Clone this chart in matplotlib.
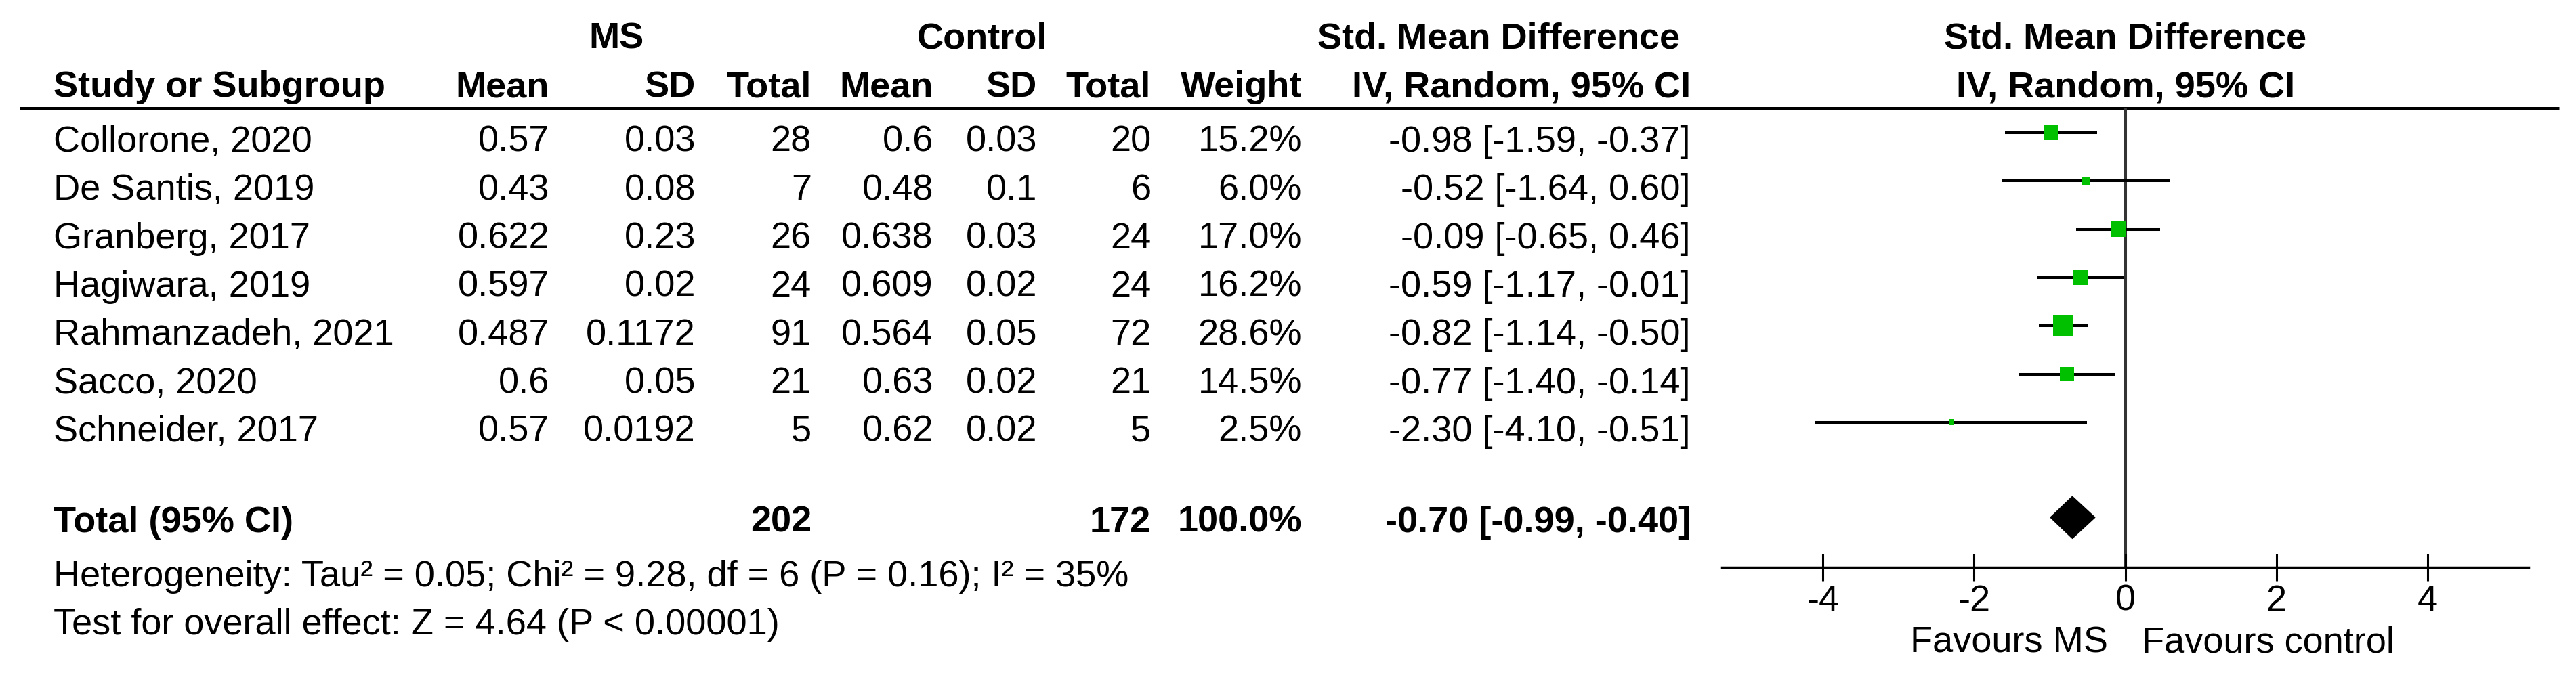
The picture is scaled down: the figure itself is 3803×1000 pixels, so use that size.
import matplotlib.pyplot as plt
import matplotlib.transforms as mtransforms
from matplotlib.patches import Polygon

plt.rcParams['font.family'] = ['Liberation Sans', 'DejaVu Sans']
plt.rcParams['axes.unicode_minus'] = False

# === Data ===
studies = ["Collorone, 2020", "De Santis, 2019", "Granberg, 2017", "Hagiwara, 2019",
           "Rahmanzadeh, 2021", "Sacco, 2020", "Schneider, 2017"]
ms_mean = [0.57, 0.43, 0.622, 0.597, 0.487, 0.6, 0.57]
ms_sd = [0.03, 0.08, 0.23, 0.02, 0.1172, 0.05, 0.0192]
ms_n = [28, 7, 26, 24, 91, 21, 5]
ctl_mean = [0.6, 0.48, 0.638, 0.609, 0.564, 0.63, 0.62]
ctl_sd = [0.03, 0.1, 0.03, 0.02, 0.05, 0.02, 0.02]
ctl_n = [20, 6, 24, 24, 72, 21, 5]
weight = [15.2, 6.0, 17.0, 16.2, 28.6, 14.5, 2.5]
smd = [-0.98, -0.52, -0.09, -0.59, -0.82, -0.77, -2.30]
ci_lo = [-1.59, -1.64, -0.65, -1.17, -1.14, -1.40, -4.10]
ci_hi = [-0.37, 0.60, 0.46, -0.01, -0.50, -0.14, -0.51]

total_ms_n, total_ctl_n, total_weight = 202, 172, 100.0
total_smd, total_lo, total_hi = -0.70, -0.99, -0.40
heterogeneity = "Heterogeneity: Tau² = 0.05; Chi² = 9.28, df = 6 (P = 0.16); I² = 35%"
overall = "Test for overall effect: Z = 4.64 (P < 0.00001)"
xticks = [-4, -2, 0, 2, 4]

# === Figure / table canvas in pixel units ===
W, H = 3803, 1000
fig = plt.figure(figsize=(W / 100, H / 100), dpi=100)
tab = fig.add_axes([0, 0, 1, 1])
tab.set_xlim(0, W)
tab.set_ylim(H, 0)
tab.axis('off')

FS = 39
row_px0, row_dy = 205, 71.3          # centre of first study row (text), row spacing
base_off = 19                        # baseline below row centre
total_row = 7.88

# column right edges
left_x = 79
col_right = [811, 1027, 1198, 1378, 1531, 1699, 1922, 2496]
sub_heads = ["Mean", "SD", "Total", "Mean", "SD", "Total", "Weight", "IV, Random, 95% CI"]

# header rows
tab.text(910, 72, "MS", ha='center', va='baseline', fontsize=FS, fontweight='bold')
tab.text(1450, 72, "Control", ha='center', va='baseline', fontsize=FS, fontweight='bold')
tab.text(2213, 72, "Std. Mean Difference", ha='center', va='baseline', fontsize=FS, fontweight='bold')
tab.text(3138, 72, "Std. Mean Difference", ha='center', va='baseline', fontsize=FS, fontweight='bold')
tab.text(3138, 143, "IV, Random, 95% CI", ha='center', va='baseline', fontsize=FS, fontweight='bold')
tab.text(left_x, 143, "Study or Subgroup", ha='left', va='baseline', fontsize=FS, fontweight='bold')
for x, lab in zip(col_right, sub_heads):
    tab.text(x, 143, lab, ha='right', va='baseline', fontsize=FS, fontweight='bold')

tab.plot([29, 3778], [160, 160], color='black', lw=3.6, solid_capstyle='butt')

# study rows
for i, name in enumerate(studies):
    y = row_px0 + i * row_dy + base_off
    cells = [str(ms_mean[i]), str(ms_sd[i]), str(ms_n[i]),
             str(ctl_mean[i]), str(ctl_sd[i]), str(ctl_n[i]),
             f"{weight[i]:.1f}%", f"{smd[i]:.2f} [{ci_lo[i]:.2f}, {ci_hi[i]:.2f}]"]
    tab.text(left_x, y, name, ha='left', va='baseline', fontsize=FS)
    for x, c in zip(col_right, cells):
        tab.text(x, y, c, ha='right', va='baseline', fontsize=FS)

# total row
y = row_px0 + total_row * row_dy + base_off
tab.text(left_x, y, "Total (95% CI)", ha='left', va='baseline', fontsize=FS, fontweight='bold')
tot_cells = {2: str(total_ms_n), 5: str(total_ctl_n), 6: f"{total_weight:.1f}%",
             7: f"{total_smd:.2f} [{total_lo:.2f}, {total_hi:.2f}]"}
for k, c in tot_cells.items():
    tab.text(col_right[k], y, c, ha='right', va='baseline', fontsize=FS, fontweight='bold')

tab.text(left_x, 866, heterogeneity, ha='left', va='baseline', fontsize=FS)
tab.text(left_x, 937, overall, ha='left', va='baseline', fontsize=FS)

# === Forest plot ===
ax_l, ax_r, ax_t, ax_b = 2542, 3733, 160, 838
plot_row0 = 196                      # centre of first marker row
plot_total = 7.97
ax = fig.add_axes([ax_l / W, 1 - ax_b / H, (ax_r - ax_l) / W, (ax_b - ax_t) / H])
ax.patch.set_visible(False)
ax.set_xlim(-5.34, 5.34)
ax.set_ylim((ax_b - plot_row0) / row_dy, (ax_t - plot_row0) / row_dy)
for s in ['top', 'left', 'right']:
    ax.spines[s].set_visible(False)
ax.spines['bottom'].set_linewidth(2.5)
ax.set_yticks([])
ax.set_xticks(xticks)
ax.tick_params(axis='x', direction='inout', length=28.8, width=2.2, pad=3.6, labelsize=FS)

ax.axvline(0, color='#333333', lw=2.9, zorder=1)

rows = list(range(len(studies)))
ax.hlines(rows, ci_lo, ci_hi, color='black', lw=2.9, zorder=2)
ax.scatter(smd, rows, s=[15.7 * w for w in weight], marker='s', color='#00c000',
           edgecolors='none', zorder=3)

dh = 31 / row_dy
ax.add_patch(Polygon([(total_lo, plot_total), (total_smd, plot_total - dh),
                      (total_hi, plot_total), (total_smd, plot_total + dh)],
                     closed=True, color='black', zorder=3))

trans = mtransforms.blended_transform_factory(ax.transData, tab.transData)
ax.text(-0.23, 964, "Favours MS", transform=trans, ha='right', va='baseline', fontsize=FS)
ax.text(0.22, 964, "Favours control", transform=trans, ha='left', va='baseline', fontsize=FS)

fig.savefig('out.png', dpi=100)
